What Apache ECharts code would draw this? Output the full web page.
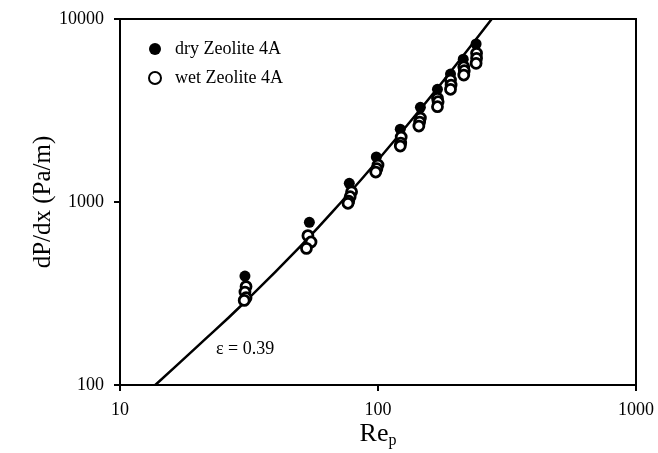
<!DOCTYPE html>
<html>
<head>
<meta charset="utf-8">
<script src="https://cdn.jsdelivr.net/npm/echarts@6/dist/echarts.min.js"></script>
<style>html,body{margin:0;padding:0;background:#fff;}#c{width:658px;height:453px;}</style>
</head>
<body>
<div id="c"></div>
<script>
// Tick labels
var xTicks = [10, 100, 1000];
var yTicks = [100, 1000, 10000];

// dry Zeolite 4A
var dryRe = [30.5, 54.2, 77.4, 98.5, 122, 146, 170, 191, 214, 240];
var dryDP = [394, 774, 1265, 1762, 2500, 3290, 4130, 5000, 6030, 7300];

// wet Zeolite 4A
var wetRe = [30.8, 30.5, 30.8, 30.3,
             53.5, 55, 52.8,
             79, 78, 77, 76.5,
             100, 99, 98,
             123, 122.5, 122,
             146, 145, 144,
             170, 171, 170,
             191, 192, 191,
             215, 216, 215,
             241, 241, 240];
var wetDP = [345, 322, 300, 290,
             655, 605, 558,
             1137, 1069, 1010, 984,
             1593, 1520, 1458,
             2265, 2100, 2022,
             2877, 2735, 2601,
             3688, 3533, 3318,
             4643, 4357, 4128,
             5485, 5218, 4939,
             6494, 6096, 5724];

// model curve (eps = 0.39)
var curveRe = [13.7, 20, 30, 50, 75, 100, 150, 200, 276];
var curveDP = [100, 163, 278, 572, 1065, 1695, 3368, 5590, 10000];

var seriesNames = ['dry Zeolite 4A', 'wet Zeolite 4A'];
var annotation = 'ε = 0.39';

function pairs(a, b) { return a.map(function (v, i) { return [v, b[i]]; }); }

var FONT = '"Liberation Serif", "Times New Roman", serif';
var chart = echarts.init(document.getElementById('c'), null, {renderer: 'canvas'});
chart.setOption({
  animation: false,
  backgroundColor: '#fff',
  grid: {left: 120, right: 22, top: 19, bottom: 68, containLabel: false, outerBoundsMode: 'none',
         show: true, borderColor: '#000', borderWidth: 2, backgroundColor: 'transparent'},
  legend: {
    orient: 'vertical', left: 143, top: 35, itemWidth: 12, itemHeight: 12, itemGap: 11,
    data: seriesNames,
    textStyle: {fontFamily: FONT, fontSize: 18, color: '#000', padding: [0, 0, 0, 9]}
  },
  xAxis: {
    type: 'log', logBase: 10, min: 10, max: 1000,
    name: 'Re{s|p}', nameLocation: 'middle', nameGap: 35, nameMoveOverlap: false,
    nameTextStyle: {fontFamily: FONT, fontSize: 26, color: '#000',
      rich: {s: {fontFamily: FONT, fontSize: 16, color: '#000', verticalAlign: 'bottom', padding: [13, 0, 0, 0]}}},
    axisLine: {lineStyle: {color: '#000', width: 2}},
    axisTick: {show: true, length: 6, inside: false, lineStyle: {color: '#000', width: 2}},
    minorTick: {show: false},
    splitLine: {show: false},
    axisLabel: {fontFamily: FONT, fontSize: 18, color: '#000', margin: 16,
      formatter: function (v) { return xTicks.indexOf(Math.round(v)) >= 0 ? String(Math.round(v)) : ''; }}
  },
  yAxis: {
    type: 'log', logBase: 10, min: 100, max: 10000,
    name: 'dP/dx (Pa/m)', nameLocation: 'middle', nameGap: 64, nameMoveOverlap: false,
    nameTextStyle: {fontFamily: FONT, fontSize: 25, color: '#000'},
    axisLine: {lineStyle: {color: '#000', width: 2}},
    axisTick: {show: true, length: 6, inside: false, lineStyle: {color: '#000', width: 2}},
    minorTick: {show: false},
    splitLine: {show: false},
    axisLabel: {fontFamily: FONT, fontSize: 18, color: '#000', margin: 16,
      formatter: function (v) { return yTicks.indexOf(Math.round(v)) >= 0 ? String(Math.round(v)) : ''; }}
  },
  graphic: [{
    type: 'text', left: 216, top: 340,
    style: {text: annotation, font: '18px "Liberation Serif", serif', fill: '#000'}
  }],
  series: [
    {name: seriesNames[0], type: 'scatter', data: pairs(dryRe, dryDP), symbol: 'circle', symbolSize: 11,
     itemStyle: {color: '#000', opacity: 1}, z: 3},
    {name: seriesNames[1], type: 'scatter', data: pairs(wetRe, wetDP), symbol: 'circle', symbolSize: 10,
     itemStyle: {color: '#fff', borderColor: '#000', borderWidth: 2.8, opacity: 1}, z: 4},
    {name: 'curve', type: 'line', data: pairs(curveRe, curveDP), showSymbol: false, symbol: 'none', smooth: true,
     lineStyle: {color: '#000', width: 2.5}, z: 2, clip: true}
  ]
});
</script>
</body>
</html>
